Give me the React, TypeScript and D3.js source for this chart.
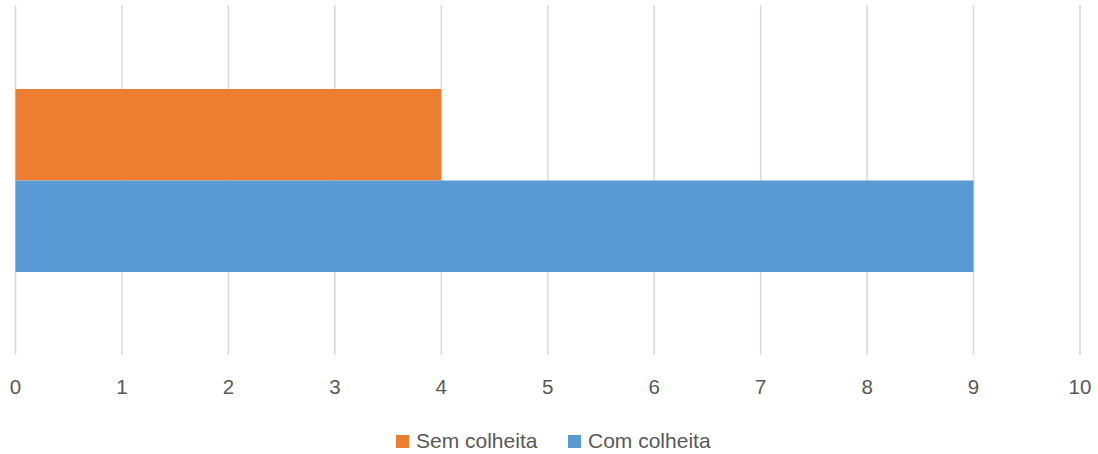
import React from "react";
import * as d3 from "d3";

const seriesNames = ["Sem colheita", "Com colheita"];
const seriesValues = [4, 9];
const seriesColors = ["#ED7D31", "#5B9BD5"];
const xTicks = [0, 1, 2, 3, 4, 5, 6, 7, 8, 9, 10];

export default function App() {
  const W = 1098, H = 454;
  const x = d3.scaleLinear().domain([0, 10]).range([15.5, 1080]);
  const plotTop = 5, plotBottom = 355;
  const y = d3.scaleBand<string>().domain(seriesNames).range([89, 272]);
  const font = "'Liberation Sans', Arial, sans-serif";
  const legendItems = [
    { name: seriesNames[0], color: seriesColors[0], x: 396 },
    { name: seriesNames[1], color: seriesColors[1], x: 568 },
  ];
  return (
    <svg width={W} height={H} style={{ position: "absolute", left: 0, top: 0 }}>
      <rect width={W} height={H} fill="#fff" />
      {xTicks.map((t) => (
        <line key={t} x1={x(t)} x2={x(t)} y1={plotTop} y2={plotBottom} stroke="#d9d9d9" strokeWidth={1.5} />
      ))}
      {seriesNames.map((n, i) => (
        <rect key={n} x={x(0)} y={y(n)} width={x(seriesValues[i]) - x(0)} height={y.bandwidth()} fill={seriesColors[i]} />
      ))}
      {xTicks.map((t) => (
        <text key={t} x={x(t)} y={394} textAnchor="middle" fontFamily={font} fontSize={20.5} fill="#595959">{t}</text>
      ))}
      {legendItems.map((l) => (
        <g key={l.name}>
          <rect x={l.x} y={435} width={13} height={13} fill={l.color} />
          <text x={l.x + 20} y={448} fontFamily={font} fontSize={21} fill="#595959">{l.name}</text>
        </g>
      ))}
    </svg>
  );
}
